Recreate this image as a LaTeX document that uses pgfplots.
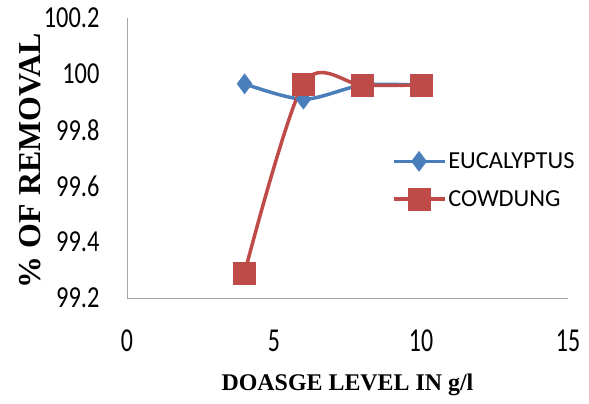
\documentclass[border=0pt]{standalone}
\usepackage{pgfplots}
\pgfplotsset{compat=1.18}
\usepackage{fontspec}
\setmainfont{Liberation Serif}
\newfontfamily\calibri{Carlito}
\definecolor{eblue}{HTML}{4A7EBB}
\definecolor{cred}{HTML}{BE4B48}
\begin{document}
\begin{tikzpicture}
\path[use as bounding box] (-127bp,-106bp) rectangle (462bp,298bp);
\begin{axis}[
  at={(0,0)}, anchor=south west,
  scale only axis, width=441bp, height=280bp,
  xmin=0, xmax=15, ymin=99.2, ymax=100.2,
  xtick={0,5,10,15}, ytick={99.2,99.4,99.6,99.8,100,100.2},
  axis x line*=bottom, axis y line*=left,
  axis line style={draw=gray!70, line width=1pt, -},
  major tick length=0pt,
  /pgf/number format/assume math mode=true,
  /pgf/number format/fixed,
  yticklabel style={font=\calibri\fontsize{24.5}{26}\selectfont, /pgf/number format/precision=1, yscale=1.25, anchor=east, xshift=-24bp},
  xticklabel style={font=\calibri\fontsize{24}{26}\selectfont, yscale=1.4, anchor=north, yshift=-19bp},
  xlabel={\bfseries DOASGE LEVEL IN g/l},
  ylabel={\bfseries \% OF REMOVAL},
  xlabel style={font=\fontsize{24}{26}\selectfont, at={(axis description cs:0.5,0)}, yshift=-72bp, anchor=north},
  ylabel style={font=\fontsize{32}{34}\selectfont, at={(axis description cs:-0.22,0.49)}, anchor=center, rotate=0},
  clip=false,
  legend style={at={(axis description cs:0.6,0.42)}, anchor=west, draw=none, fill=none,
    font=\calibri\fontsize{24.5}{27}\selectfont, row sep=16bp, inner sep=0pt},
  legend cell align=left,
  legend image post style={sharp plot},
  legend image code/.code={
    \draw[#1, line width=3.5pt] (0cm,0cm) -- (1.8cm,0cm);
    \draw[#1, only marks] plot coordinates {(0.9cm,0cm)};
  },
]
\addplot[eblue, line width=3.5pt, smooth, mark=diamond*, mark size=10bp, mark options={fill=eblue, draw=eblue, line width=0.5pt}]
  coordinates {(4,99.965) (6,99.91) (8,99.96) (10,99.96)};
\addlegendentry{EUCALYPTUS}
\addplot[cred, line width=3.5pt, smooth, mark=square*, mark size=11bp, mark options={fill=cred, draw=cred, line width=0.5pt}]
  coordinates {(4,99.29) (6,99.965) (8,99.96) (10,99.96)};
\addlegendentry{COWDUNG}
\end{axis}
\end{tikzpicture}
\end{document}
